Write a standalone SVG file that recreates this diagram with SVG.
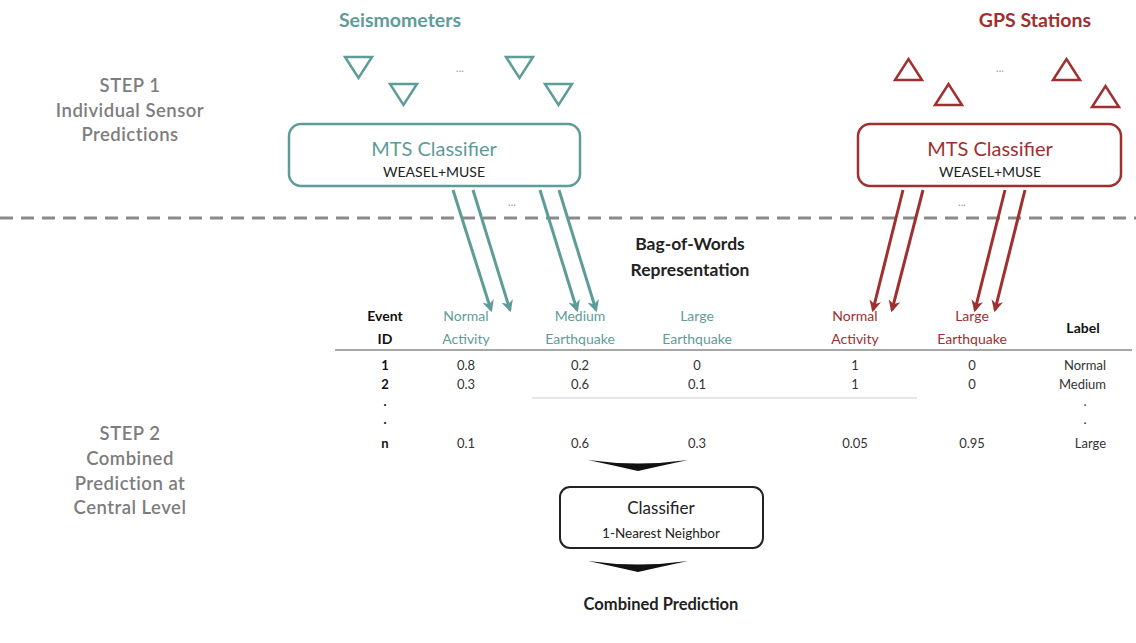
<svg xmlns="http://www.w3.org/2000/svg" width="1136" height="643" viewBox="0 0 1136 643">
<style>
text{font-family:Lato,"Open Sans",sans-serif;text-anchor:middle}
.step{fill:#7d7d7d;font-size:18.5px;font-weight:600;letter-spacing:0.5px}
.teal{fill:#5e9c99}
.red{fill:#a03030}
.title{font-size:19.5px;font-weight:700}
.box-t{fill:none;stroke:#5e9c99;stroke-width:2.5}
.box-r{fill:none;stroke:#a03030;stroke-width:2.5}
.tri-t{fill:none;stroke:#5e9c99;stroke-width:2.5;stroke-linejoin:miter}
.tri-r{fill:none;stroke:#a03030;stroke-width:2.5;stroke-linejoin:miter}
.mts{font-size:20px}
.sub{font-size:14px;fill:#222}
.dots{font-size:11px;fill:#999}
.hdr{font-size:14px}
.cell{font-size:13px;fill:#333}
.bold{font-weight:700;fill:#111}
.bow{font-size:17.5px;font-weight:700;fill:#222}
.arr-t{stroke:#5e9c99;stroke-width:3;marker-end:url(#mt)}
.arr-r{stroke:#a03030;stroke-width:3;marker-end:url(#mr)}
</style>
<defs>
<marker id="mt" viewBox="0 0 10 10" refX="8" refY="5" markerWidth="4" markerHeight="4" orient="auto" markerUnits="strokeWidth"><path d="M0,0 L10,5 L0,10 L3,5 Z" fill="#5e9c99"/></marker>
<marker id="mr" viewBox="0 0 10 10" refX="8" refY="5" markerWidth="4" markerHeight="4" orient="auto" markerUnits="strokeWidth"><path d="M0,0 L10,5 L0,10 L3,5 Z" fill="#a03030"/></marker>
</defs>
<rect width="1136" height="643" fill="#fff"/>

<g id="step1">
<text class="step" x="130" y="92">STEP 1</text>
<text class="step" x="130" y="117">Individual Sensor</text>
<text class="step" x="130" y="141">Predictions</text>
</g>
<g id="step2">
<text class="step" x="130" y="440">STEP 2</text>
<text class="step" x="130" y="465">Combined</text>
<text class="step" x="130" y="490">Prediction at</text>
<text class="step" x="130" y="514">Central Level</text>
</g>

<g id="seismometers">
<text class="title teal" x="400" y="27">Seismometers</text>
<path class="tri-t" d="M345,57 L372,57 L358.5,78 Z"/>
<path class="tri-t" d="M390,84 L417,84 L403.5,105 Z"/>
<path class="tri-t" d="M506,57 L533,57 L519.5,78 Z"/>
<path class="tri-t" d="M545,84 L572,84 L558.5,105 Z"/>
<text class="dots" x="460" y="72">...</text>
</g>
<g id="gps">
<text class="title red" x="1035" y="27">GPS Stations</text>
<path class="tri-r" d="M895,80 L922,80 L908.5,59 Z"/>
<path class="tri-r" d="M935,105 L962,105 L948.5,84 Z"/>
<path class="tri-r" d="M1053,80 L1080,80 L1066.5,59 Z"/>
<path class="tri-r" d="M1092,107 L1119,107 L1105.5,86 Z"/>
<text class="dots" x="1000" y="72">...</text>
</g>

<g id="mts-seis">
<rect class="box-t" x="289" y="124" width="291" height="62" rx="12"/>
<text class="mts teal" x="434" y="156">MTS Classifier</text>
<text class="sub" x="434" y="177">WEASEL+MUSE</text>
</g>
<g id="mts-gps">
<rect class="box-r" x="858" y="124" width="263" height="62" rx="12"/>
<text class="mts red" x="990" y="156">MTS Classifier</text>
<text class="sub" x="990" y="177">WEASEL+MUSE</text>
</g>

<line id="divider" x1="0" y1="218" x2="1136" y2="218" stroke="#8a8a8a" stroke-width="3" stroke-dasharray="13 8"/>

<g id="connectors">
<line class="arr-t" x1="453" y1="190" x2="491" y2="310"/>
<line class="arr-t" x1="473" y1="190" x2="510" y2="310"/>
<line class="arr-t" x1="540" y1="190" x2="577" y2="310"/>
<line class="arr-t" x1="559" y1="190" x2="596" y2="310"/>
<line class="arr-r" x1="903" y1="190" x2="873" y2="310"/>
<line class="arr-r" x1="923" y1="190" x2="892" y2="310"/>
<line class="arr-r" x1="1005" y1="190" x2="975" y2="310"/>
<line class="arr-r" x1="1025" y1="190" x2="995" y2="310"/>
<text class="dots" x="512" y="206">...</text>
<text class="dots" x="962" y="206">...</text>
<path d="M588,460 Q638,467 688,460 Q660,466 638,471 Q616,466 588,460 Z" fill="#111"/>
<path d="M588,561 Q638,568 688,561 Q660,567 638,572 Q616,567 588,561 Z" fill="#111"/>
</g>

<g id="bow">
<text class="bow" x="690" y="250">Bag-of-Words</text>
<text class="bow" x="690" y="276">Representation</text>
</g>

<g id="table">
<text class="hdr bold" x="385" y="321">Event</text>
<text class="hdr bold" x="385" y="344">ID</text>
<text class="hdr teal" x="466" y="321">Normal</text>
<text class="hdr teal" x="466" y="344">Activity</text>
<text class="hdr teal" x="580" y="321">Medium</text>
<text class="hdr teal" x="580" y="344">Earthquake</text>
<text class="hdr teal" x="697" y="321">Large</text>
<text class="hdr teal" x="697" y="344">Earthquake</text>
<text class="hdr red" x="855" y="321">Normal</text>
<text class="hdr red" x="855" y="344">Activity</text>
<text class="hdr red" x="972" y="321">Large</text>
<text class="hdr red" x="972" y="344">Earthquake</text>
<text class="hdr bold" x="1083" y="333">Label</text>
<line x1="335" y1="350" x2="1132" y2="350" stroke="#888" stroke-width="1.5"/>

<text class="cell bold" x="385" y="370">1</text>
<text class="cell" x="466" y="370">0.8</text>
<text class="cell" x="580" y="370">0.2</text>
<text class="cell" x="697" y="370">0</text>
<text class="cell" x="855" y="370">1</text>
<text class="cell" x="972" y="370">0</text>
<text class="cell" x="1106" y="370" style="text-anchor:end">Normal</text>

<text class="cell bold" x="385" y="389">2</text>
<text class="cell" x="466" y="389">0.3</text>
<text class="cell" x="580" y="389">0.6</text>
<text class="cell" x="697" y="389">0.1</text>
<text class="cell" x="855" y="389">1</text>
<text class="cell" x="972" y="389">0</text>
<text class="cell" x="1106" y="389" style="text-anchor:end">Medium</text>

<text class="cell bold" x="385" y="406">.</text>
<text class="cell bold" x="385" y="424">.</text>
<text class="cell" x="1085" y="406">.</text>
<text class="cell" x="1085" y="424">.</text>
<line x1="532" y1="398" x2="917" y2="398" stroke="#cfcfcf" stroke-width="1.2"/>

<text class="cell bold" x="385" y="448">n</text>
<text class="cell" x="466" y="448">0.1</text>
<text class="cell" x="580" y="448">0.6</text>
<text class="cell" x="697" y="448">0.3</text>
<text class="cell" x="855" y="448">0.05</text>
<text class="cell" x="972" y="448">0.95</text>
<text class="cell" x="1106" y="448" style="text-anchor:end">Large</text>
</g>

<g id="classifier">
<rect x="560" y="487" width="203" height="61" rx="10" fill="none" stroke="#222" stroke-width="2"/>
<text x="661" y="514" font-size="17" fill="#222">Classifier</text>
<text x="661" y="538" font-size="13.5" fill="#222">1-Nearest Neighbor</text>
</g>

<g id="combined">
<text x="661" y="610" font-size="16.5" font-weight="700" fill="#222">Combined Prediction</text>
</g>
</svg>
